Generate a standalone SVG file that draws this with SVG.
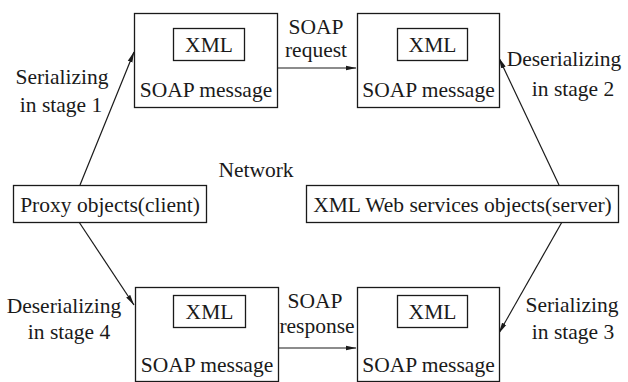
<svg xmlns="http://www.w3.org/2000/svg" width="628" height="382" viewBox="0 0 628 382">
<style>
  .box { fill: #fff; stroke: #1a1a1a; stroke-width: 1.3; }
  .t { font-family: "Liberation Serif", "Times New Roman", serif; font-size: 21.5px; fill: #1a1a1a; text-anchor: middle; }
  .c { stroke: #1a1a1a; stroke-width: 1.2; fill: none; marker-end: url(#ah); }
</style>
<defs>
  <marker id="ah" markerWidth="11" markerHeight="6" refX="10.5" refY="3" orient="auto" markerUnits="userSpaceOnUse">
    <path d="M0,0.6 L11,3 L0,5.4 Z" fill="#1a1a1a"/>
  </marker>
</defs>
<rect width="628" height="382" fill="#fff"/>

<g id="connectors">
  <line class="c" x1="80" y1="185" x2="134" y2="52"/>
  <line class="c" x1="559" y1="185" x2="499" y2="58"/>
  <line class="c" x1="79" y1="222" x2="134" y2="305"/>
  <line class="c" x1="562" y1="222" x2="499" y2="333"/>
  <line class="c" x1="278" y1="68" x2="356" y2="68"/>
  <line class="c" x1="278" y1="348" x2="356" y2="348"/>
</g>

<g id="soap-top-left">
  <rect class="box" x="134.5" y="13.5" width="143" height="94"/>
  <rect class="box" x="173.5" y="28.5" width="71" height="32"/>
  <text class="t" x="209" y="52">XML</text>
  <text class="t" x="206" y="97">SOAP message</text>
</g>
<g id="soap-top-right">
  <rect class="box" x="357.5" y="13.5" width="142" height="94"/>
  <rect class="box" x="397.5" y="28.5" width="70" height="32"/>
  <text class="t" x="432.5" y="52">XML</text>
  <text class="t" x="428.5" y="97">SOAP message</text>
</g>
<g id="soap-bottom-left">
  <rect class="box" x="135.5" y="287.5" width="143" height="94"/>
  <rect class="box" x="173.5" y="295.5" width="72" height="32"/>
  <text class="t" x="209.5" y="319">XML</text>
  <text class="t" x="207" y="372">SOAP message</text>
</g>
<g id="soap-bottom-right">
  <rect class="box" x="357.5" y="287.5" width="142" height="94"/>
  <rect class="box" x="397.5" y="295.5" width="70" height="32"/>
  <text class="t" x="432.5" y="319">XML</text>
  <text class="t" x="428.5" y="372">SOAP message</text>
</g>
<g id="proxy">
  <rect class="box" x="13.5" y="185.5" width="193" height="37"/>
  <text class="t" x="110" y="212">Proxy objects(client)</text>
</g>
<g id="server">
  <rect class="box" x="306.5" y="185.5" width="312" height="37"/>
  <text class="t" x="462.5" y="212">XML Web services objects(server)</text>
</g>

<g id="labels">
  <text class="t" x="256" y="177">Network</text>
  <text class="t" x="62" y="84">Serializing</text>
  <text class="t" x="61" y="112">in stage 1</text>
  <text class="t" x="316" y="34">SOAP</text>
  <text class="t" x="316" y="57">request</text>
  <text class="t" x="564" y="66">Deserializing</text>
  <text class="t" x="573" y="96">in stage 2</text>
  <text class="t" x="64" y="313">Deserializing</text>
  <text class="t" x="69" y="339">in stage 4</text>
  <text class="t" x="315" y="308">SOAP</text>
  <text class="t" x="317" y="333">response</text>
  <text class="t" x="572" y="312">Serializing</text>
  <text class="t" x="573" y="339">in stage 3</text>
</g>
</svg>
